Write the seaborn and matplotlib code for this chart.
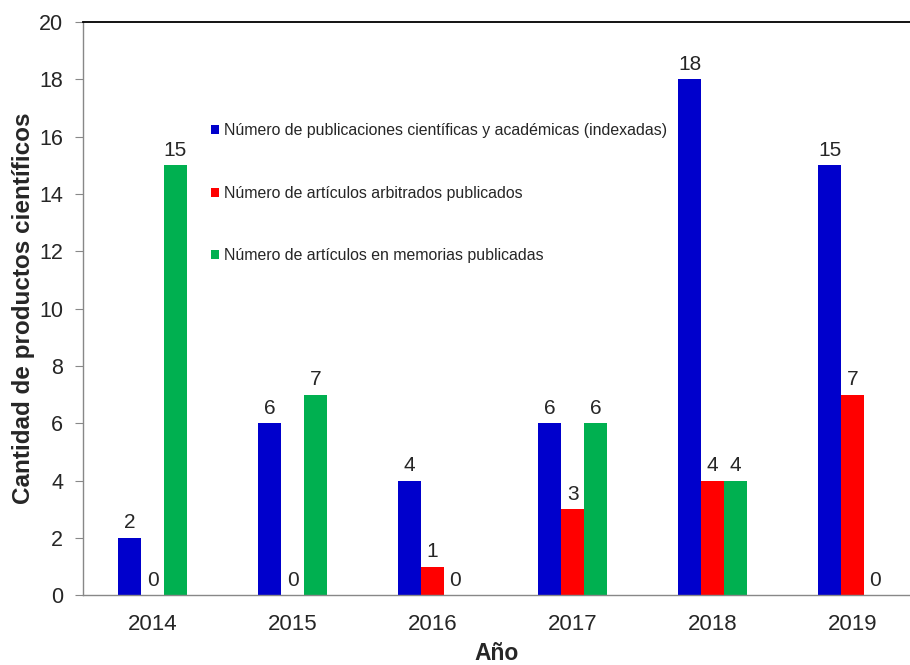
import matplotlib
matplotlib.use("Agg")
import matplotlib.pyplot as plt
import seaborn as sns
import pandas as pd

# datos
years = ["2014", "2015", "2016", "2017", "2018", "2019"]
indexadas = [2, 6, 4, 6, 18, 15]
arbitrados = [0, 0, 1, 3, 4, 7]
memorias = [15, 7, 0, 6, 4, 0]
series_names = [
    "Número de publicaciones científicas y académicas (indexadas)",
    "Número de artículos arbitrados publicados",
    "Número de artículos en memorias publicadas",
]
colors = ["#0000CC", "#FF0000", "#00B050"]

df = pd.DataFrame({
    "Año": years * 3,
    "valor": indexadas + arbitrados + memorias,
    "serie": [series_names[0]] * 6 + [series_names[1]] * 6 + [series_names[2]] * 6,
})

sns.set_style("white")
plt.rcParams['font.family'] = ['Liberation Sans', 'DejaVu Sans']

fig = plt.figure(figsize=(9.1, 6.65), dpi=100)
ax = fig.add_axes([0.0907, 0.105, 0.9093, 0.862])

sns.barplot(data=df, x="Año", y="valor", hue="serie", order=years,
            hue_order=series_names, palette=colors, width=0.49, gap=0,
            saturation=1, ax=ax, linewidth=0)

for c in ax.containers:
    ax.bar_label(c, fmt="%d", padding=4, fontsize=15)

ax.set_ylim(0, 20)
ax.set_yticks(range(0, 21, 2))
ax.set_xlim(-0.5, 5.41)

ax.spines["right"].set_visible(False)
ax.spines["top"].set_color("black")
ax.spines["top"].set_linewidth(1.3)
for s in ["left", "bottom"]:
    ax.spines[s].set_color("#888888")
    ax.spines[s].set_linewidth(1.0)

ax.tick_params(axis="y", left=True, length=6, color="#888888", labelsize=15.5, pad=8)
ax.tick_params(axis="x", bottom=False, labelsize=16, pad=10)

ax.set_xlabel("Año", fontsize=16.5, fontweight="bold", labelpad=5)
ax.set_ylabel("Cantidad de productos científicos", fontsize=17.5, fontweight="bold", labelpad=3)

leg = ax.legend(loc="upper left", bbox_to_anchor=(0.138, 0.848), frameon=False,
                fontsize=11.4, handlelength=0.5, handleheight=0.5,
                handletextpad=0.3, labelspacing=3.0)

fig.savefig("out.png", dpi=100)
